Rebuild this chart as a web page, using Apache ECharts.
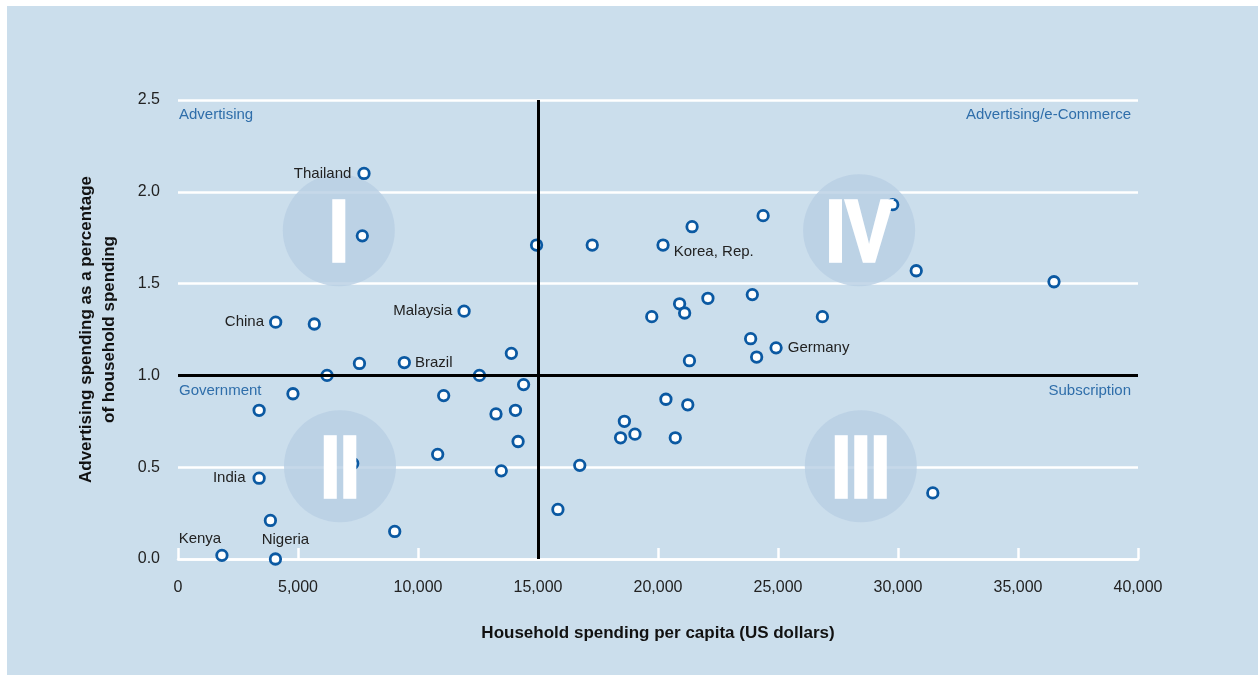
<!DOCTYPE html>
<html>
<head>
  <meta charset="utf-8">
  <title>Advertising and household spending</title>
  <script src="https://cdn.jsdelivr.net/npm/echarts@6.0.0/dist/echarts.min.js"></script>
  <style>
    body { margin: 0; background: #ffffff; }
    #bg { position: absolute; left: 7px; top: 6px; right: 0; bottom: 0; background: #cbdeec; }
    #main { position: absolute; left: 0; top: 0; width: 1258px; height: 675px; }
  </style>
</head>
<body>
  <div id="bg"></div>
  <div id="main"></div>

  <script>
    // household spending per capita (US$), one entry per country
    var spending = [7750, 7680, 4070, 5680, 11920, 7560, 9430, 6210, 13890, 12560,
      14400, 4790, 11070, 3380, 13250, 14060, 14170, 10820, 13470, 7280,
      3380, 3850, 9030, 1830, 4060, 14940, 17260, 20210, 21420, 24380,
      29780, 30760, 36500, 19740, 20900, 21110, 22080, 23930, 26850, 23860,
      24920, 24110, 21310, 20330, 21240, 18600, 18440, 19040, 20720, 16740,
      15830, 31450];
    // advertising spending as % of household spending
    var adShare = [2.10, 1.76, 1.29, 1.28, 1.35, 1.065, 1.07, 1.00, 1.12, 1.00,
      0.95, 0.90, 0.89, 0.81, 0.79, 0.81, 0.64, 0.57, 0.48, 0.52,
      0.44, 0.21, 0.15, 0.02, 0.00, 1.71, 1.71, 1.71, 1.81, 1.87,
      1.93, 1.57, 1.51, 1.32, 1.39, 1.34, 1.42, 1.44, 1.32, 1.20,
      1.15, 1.10, 1.08, 0.87, 0.84, 0.75, 0.66, 0.68, 0.66, 0.51,
      0.27, 0.36];
    var countries = ['Thailand', '', 'China', '', 'Malaysia', '', 'Brazil', '', '', '',
      '', '', '', '', '', '', '', '', '', '',
      'India', '', '', 'Kenya', 'Nigeria', '', '', 'Korea, Rep.', '', '',
      '', '', '', '', '', '', '', '', '', '',
      'Germany', '', '', '', '', '', '', '', '', '',
      '', ''];

    // quadrant markers
    var quadNames = ['I', 'II', 'III', 'IV'];
    var quadX = [6700, 6750, 28450, 28380];
    var quadY = [1.79, 0.505, 0.505, 1.79];

    var xTicks = [0, 5000, 10000, 15000, 20000, 25000, 30000, 35000, 40000];
    var yTicks = [0, 0.5, 1.0, 1.5, 2.0, 2.5];
    var xSplit = 15000, ySplit = 1.0;

    var font = "'Liberation Sans', Arial, sans-serif";

    // where each country name sits next to its dot
    var labelPlace = {
      'Thailand': { position: 'left', distance: 6 },
      'China': { position: 'left', distance: 5 },
      'Malaysia': { position: 'left', distance: 5 },
      'Brazil': { position: 'right', distance: 4 },
      'India': { position: 'left', distance: 7 },
      'Germany': { position: 'right', distance: 5 },
      'Korea, Rep.': { position: 'right', distance: 4, offset: [0, 7] },
      'Kenya': { position: 'top', distance: 2, offset: [-22, 0] },
      'Nigeria': { position: 'top', distance: 5, offset: [10, 0] }
    };

    var points = spending.map(function (x, i) {
      var item = { value: [x, adShare[i]], name: countries[i] };
      if (countries[i]) {
        item.label = Object.assign({ show: true }, labelPlace[countries[i]]);
      }
      return item;
    });

    var quads = quadNames.map(function (n, i) {
      return { value: [quadX[i], quadY[i]], name: n };
    });

    var chart = echarts.init(document.getElementById('main'));

    var option = {
      backgroundColor: 'transparent',
      animation: false,
      textStyle: { fontFamily: font },
      grid: { left: 178, right: 120, top: 100, bottom: 116 },
      xAxis: {
        type: 'value',
        min: xTicks[0],
        max: xTicks[xTicks.length - 1],
        interval: 5000,
        name: 'Household spending per capita (US dollars)',
        nameLocation: 'middle',
        nameGap: 66,
        nameTextStyle: { fontSize: 17, fontWeight: 'bold', color: '#111', fontFamily: font },
        axisLine: { show: true, lineStyle: { color: '#ffffff', width: 2.5 } },
        axisTick: { show: true, inside: true, length: 11, lineStyle: { color: '#ffffff', width: 2.5 } },
        axisLabel: {
          margin: 21, fontSize: 16, color: '#222', fontFamily: font,
          formatter: function (v) { return v.toLocaleString('en-US'); }
        },
        splitLine: { show: false }
      },
      yAxis: {
        type: 'value',
        min: yTicks[0],
        max: yTicks[yTicks.length - 1],
        interval: 0.5,
        name: 'Advertising spending as a percentage\nof household spending',
        nameLocation: 'middle',
        nameRotate: 90,
        nameGap: 57,
        nameTextStyle: { fontSize: 17, fontWeight: 'bold', color: '#111', lineHeight: 23, fontFamily: font },
        axisLine: { show: false },
        axisTick: { show: false },
        axisLabel: {
          margin: 18, fontSize: 16, color: '#222', fontFamily: font,
          formatter: function (v) { return v.toFixed(1); }
        },
        splitLine: { show: true, lineStyle: { color: '#ffffff', width: 2.5 } }
      },
      graphic: [
        { type: 'text', x: 179, y: 115, style: { text: 'Advertising', fill: '#2f6eaa', font: '15px ' + font, textAlign: 'left', textVerticalAlign: 'middle' } },
        { type: 'text', x: 1131, y: 115, style: { text: 'Advertising/e-Commerce', fill: '#2f6eaa', font: '15px ' + font, textAlign: 'right', textVerticalAlign: 'middle' } },
        { type: 'text', x: 179, y: 391, style: { text: 'Government', fill: '#2f6eaa', font: '15px ' + font, textAlign: 'left', textVerticalAlign: 'middle' } },
        { type: 'text', x: 1131, y: 391, style: { text: 'Subscription', fill: '#2f6eaa', font: '15px ' + font, textAlign: 'right', textVerticalAlign: 'middle' } }
      ],
      series: [
        {
          name: 'quadrant circles',
          type: 'scatter',
          z: 1,
          silent: true,
          symbolSize: 112,
          itemStyle: { color: '#b8cee3' },
          data: quads,
          markLine: {
            silent: true,
            symbol: 'none',
            label: { show: false },
            lineStyle: { color: '#000000', width: 3, type: 'solid' },
            data: [{ yAxis: ySplit }, { xAxis: xSplit }]
          }
        },
        {
          name: 'countries',
          type: 'scatter',
          z: 3,
          symbol: 'circle',
          symbolSize: 10.5,
          itemStyle: { color: '#ffffff', borderColor: '#0b59a2', borderWidth: 2.8, opacity: 1 },
          label: {
            show: false,
            color: '#222',
            fontSize: 15,
            fontFamily: font,
            formatter: function (p) { return p.name; }
          },
          data: points
        },
        {
          // roman numerals, squeezed and stroked to look bold-condensed
          name: 'quadrant numerals',
          type: 'custom',
          z: 5,
          silent: true,
          renderItem: function (params, api) {
            var p = api.coord([api.value(0), api.value(1)]);
            return {
              type: 'text',
              x: p[0],
              y: p[1] + 6,
              scaleX: 0.8,
              style: {
                text: quadNames[params.dataIndex],
                fill: '#ffffff',
                stroke: '#ffffff',
                lineWidth: 3.5,
                font: 'bold 88px ' + font,
                align: 'center',
                verticalAlign: 'middle'
              }
            };
          },
          data: quads
        }
      ]
    };

    chart.setOption(option);
  </script>
</body>
</html>
